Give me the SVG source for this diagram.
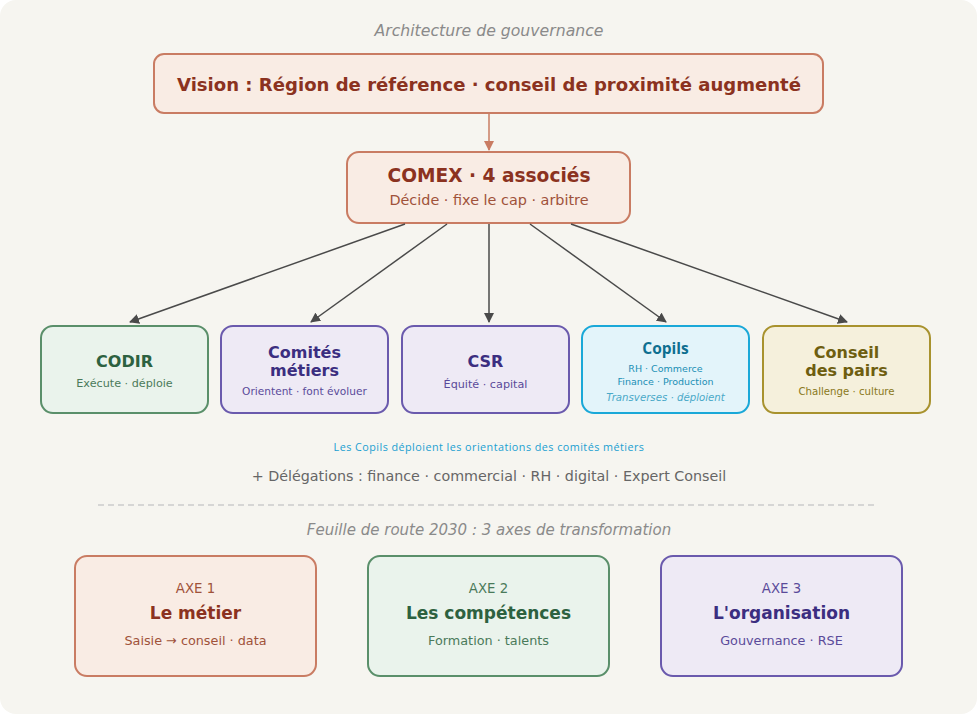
<svg xmlns="http://www.w3.org/2000/svg" width="977" height="714" viewBox="0 0 977 714">
<defs>
<marker id="ah" viewBox="0 0 10 10" refX="9" refY="5" markerWidth="10" markerHeight="10" markerUnits="userSpaceOnUse" orient="auto"><path d="M0,0 L10,5 L0,10 z" fill="#4a4a4a"/></marker>
<marker id="ahr" viewBox="0 0 10 10" refX="9" refY="5" markerWidth="10" markerHeight="10" markerUnits="userSpaceOnUse" orient="auto"><path d="M0,0 L10,5 L0,10 z" fill="#c97c63"/></marker>
<style>
text{font-family:"DejaVu Sans",sans-serif;text-anchor:middle}
.cap{font-style:italic;font-size:15px;fill:#8a8a8a}
.red rect{fill:#f9ece4;stroke:#c97c63;stroke-width:2}
.grn rect{fill:#eaf3ec;stroke:#5a8f6a;stroke-width:2}
.pur rect{fill:#eeeaf5;stroke:#6a5aad;stroke-width:2}
.cyn rect{fill:#e3f4fa;stroke:#1aa8d8;stroke-width:2}
.olv rect{fill:#f5f0dc;stroke:#a8922e;stroke-width:2}
.t{font-weight:bold;font-size:16px}
.s{font-size:11.2px}
.red .t{fill:#8b3220}.red .s{fill:#a0523a}
.grn .t{fill:#2d6140}.grn .s{fill:#4a7a5a}
.pur .t{fill:#3b2e80}.pur .s{fill:#5a4a9a}
.olv .t{fill:#6e5e10}.olv .s{fill:#8a7820}
.conn line{stroke:#4a4a4a;stroke-width:1.5;marker-end:url(#ah)}
.ax{font-size:13.3px}.at{font-weight:bold;font-size:17px}.as{font-size:12.8px}
</style>
</defs>
<rect x="0" y="0" width="977" height="714" rx="16" fill="#f6f5f0"/>
<text class="cap" x="489" y="36" style="font-size:15.7px">Architecture de gouvernance</text>

<g id="vision" class="red">
<rect x="154" y="54" width="669" height="59" rx="10"/>
<text class="t" x="489" y="91" style="font-size:18px" textLength="624" lengthAdjust="spacingAndGlyphs">Vision : Région de référence · conseil de proximité augmenté</text>
</g>

<g id="comex" class="red">
<rect x="347" y="152" width="283" height="71" rx="12"/>
<text class="t" x="489" y="182" style="font-size:18.6px">COMEX · 4 associés</text>
<text class="s" x="489" y="205" style="font-size:14.4px">Décide · fixe le cap · arbitre</text>
</g>

<g class="conn">
<line x1="489" y1="114" x2="489" y2="150" style="stroke:#c97c63;marker-end:url(#ahr)"/>
<line x1="405" y1="224" x2="130" y2="322"/>
<line x1="447" y1="224" x2="311" y2="322"/>
<line x1="489" y1="224" x2="489" y2="322"/>
<line x1="530" y1="224" x2="666" y2="322"/>
<line x1="571" y1="224" x2="847" y2="322"/>
</g>

<g id="codir" class="grn">
<rect x="41" y="326" width="167" height="87" rx="12"/>
<text class="t" x="124.5" y="367">CODIR</text>
<text class="s" x="124.5" y="387">Exécute · déploie</text>
</g>
<g id="comites" class="pur">
<rect x="221" y="326" width="167" height="87" rx="12"/>
<text class="t" x="304.5" y="358">Comités</text>
<text class="t" x="304.5" y="376">métiers</text>
<text class="s" x="304.5" y="395" style="font-size:10.6px">Orientent · font évoluer</text>
</g>
<g id="csr" class="pur">
<rect x="402" y="326" width="167" height="87" rx="12"/>
<text class="t" x="485.5" y="367">CSR</text>
<text class="s" x="485.5" y="388">Équité · capital</text>
</g>
<g id="copils" class="cyn">
<rect x="582" y="326" width="167" height="87" rx="12"/>
<text x="665.5" y="354" style="font-family:'Open Sans',Lato,sans-serif;font-weight:bold;font-size:15.5px;fill:#0e6f90">Copils</text>
<text x="665.5" y="372" style="font-size:9.5px;fill:#1a8fb5">RH · Commerce</text>
<text x="665.5" y="385" style="font-size:9.5px;fill:#1a8fb5">Finance · Production</text>
<text x="665.5" y="401" style="font-size:10.2px;font-style:italic;fill:#4aa9c8">Transverses · déploient</text>
</g>
<g id="conseil" class="olv">
<rect x="763" y="326" width="167" height="87" rx="12"/>
<text class="t" x="846.5" y="358">Conseil</text>
<text class="t" x="846.5" y="376">des pairs</text>
<text class="s" x="846.5" y="395" style="font-size:10.2px">Challenge · culture</text>
</g>

<text x="489" y="451" style="font-family:'Open Sans',Lato,sans-serif;font-size:10.8px;fill:#1aa0d0;letter-spacing:0.45px">Les Copils déploient les orientations des comités métiers</text>
<text x="489" y="481" style="font-size:14.3px;fill:#666">+ Délégations : finance · commercial · RH · digital · Expert Conseil</text>
<line x1="98" y1="505" x2="875" y2="505" stroke="#cccccc" stroke-width="1.5" stroke-dasharray="6 4"/>
<text class="cap" x="489" y="535">Feuille de route 2030 : 3 axes de transformation</text>

<g id="axe1" class="red">
<rect x="75" y="556" width="241" height="120" rx="12"/>
<text class="s ax" x="195.5" y="593">AXE 1</text>
<text class="t at" x="195.5" y="619">Le métier</text>
<text class="s as" x="195.5" y="645">Saisie → conseil · data</text>
</g>
<g id="axe2" class="grn">
<rect x="368" y="556" width="241" height="120" rx="12"/>
<text class="s ax" x="488.5" y="593">AXE 2</text>
<text class="t at" x="488.5" y="619">Les compétences</text>
<text class="s as" x="488.5" y="645">Formation · talents</text>
</g>
<g id="axe3" class="pur">
<rect x="661" y="556" width="241" height="120" rx="12"/>
<text class="s ax" x="781.5" y="593">AXE 3</text>
<text class="t at" x="781.5" y="619">L'organisation</text>
<text class="s as" x="781.5" y="645">Gouvernance · RSE</text>
</g>
</svg>
